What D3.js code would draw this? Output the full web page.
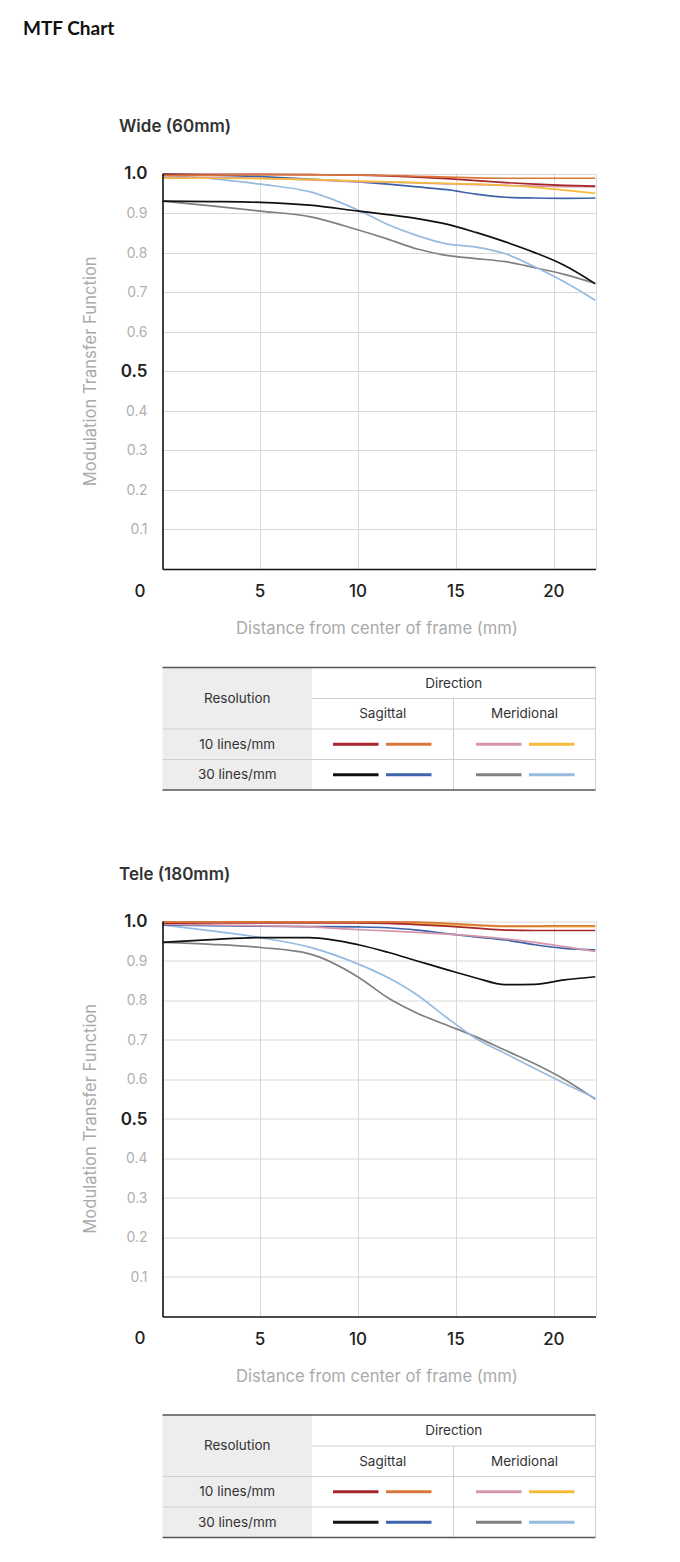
<!DOCTYPE html>
<html>
<head>
<meta charset="utf-8">
<script src="https://cdn.jsdelivr.net/npm/d3@7"></script>
<style>
  html, body { margin: 0; padding: 0; background: #fff; }
  svg { display: block; }
  text { font-family: Inter, "Noto Sans", sans-serif; }
</style>
</head>
<body>
<svg id="chart" width="680" height="1562"></svg>
<script>
// ---------------- DATA ----------------
const pageTitle = "MTF Chart";
const chartTitles = ["Wide (60mm)", "Tele (180mm)"];
const distances = [0, 2.5, 5, 7.5, 10, 11.5, 13, 14.5, 16, 17.5, 19, 20.5, 22.1];
const xTicks = [5, 10, 15, 20];
const yTicks = [0.1, 0.2, 0.3, 0.4, 0.5, 0.6, 0.7, 0.8, 0.9, 1.0];
const yTickLabels = ["0.1", "0.2", "0.3", "0.4", "0.5", "0.6", "0.7", "0.8", "0.9", "1.0"];
const seriesNames = ["10S-a", "10S-b", "10M-a", "10M-b", "30S-a", "30S-b", "30M-a", "30M-b"];
const seriesColors = ["#a6262c", "#d9773a", "#d597a8", "#f4bb3c", "#111111", "#3d63ab", "#808080", "#96bbe0"];

// Wide (60mm)
const wide10SagA = [0.998, 0.998, 0.998, 0.997, 0.996, 0.994, 0.991, 0.987, 0.982, 0.977, 0.973, 0.970, 0.968];
const wide10SagB = [0.995, 0.996, 0.997, 0.997, 0.996, 0.995, 0.993, 0.991, 0.989, 0.988, 0.988, 0.988, 0.988];
const wide10MerA = [0.990, 0.990, 0.988, 0.984, 0.979, 0.978, 0.976, 0.974, 0.972, 0.970, 0.968, 0.967, 0.966];
const wide10MerB = [0.988, 0.988, 0.987, 0.985, 0.981, 0.979, 0.977, 0.975, 0.973, 0.970, 0.965, 0.958, 0.950];
const wide30SagA = [0.930, 0.929, 0.927, 0.920, 0.905, 0.896, 0.886, 0.872, 0.851, 0.827, 0.800, 0.768, 0.721];
const wide30SagB = [0.999, 0.996, 0.992, 0.986, 0.979, 0.973, 0.966, 0.959, 0.948, 0.940, 0.938, 0.937, 0.938];
const wide30MerA = [0.930, 0.918, 0.905, 0.891, 0.857, 0.834, 0.809, 0.793, 0.785, 0.777, 0.762, 0.745, 0.722];
const wide30MerB = [0.995, 0.987, 0.973, 0.954, 0.907, 0.871, 0.843, 0.822, 0.814, 0.797, 0.764, 0.726, 0.679];

// Tele (180mm)
const tele10SagA = [0.994, 0.995, 0.995, 0.995, 0.995, 0.994, 0.991, 0.987, 0.982, 0.977, 0.976, 0.976, 0.976];
const tele10SagB = [0.998, 0.998, 0.998, 0.998, 0.998, 0.998, 0.997, 0.994, 0.990, 0.987, 0.987, 0.988, 0.988];
const tele10MerA = [0.992, 0.990, 0.988, 0.985, 0.978, 0.975, 0.971, 0.967, 0.962, 0.955, 0.946, 0.935, 0.923];
const tele10MerB = [0.996, 0.997, 0.997, 0.997, 0.996, 0.995, 0.994, 0.991, 0.988, 0.986, 0.986, 0.986, 0.986];
const tele30SagA = [0.946, 0.953, 0.958, 0.958, 0.940, 0.921, 0.899, 0.877, 0.856, 0.839, 0.840, 0.851, 0.859];
const tele30SagB = [0.990, 0.988, 0.987, 0.986, 0.985, 0.983, 0.977, 0.968, 0.960, 0.952, 0.940, 0.931, 0.927];
const tele30MerA = [0.946, 0.941, 0.933, 0.917, 0.858, 0.806, 0.767, 0.737, 0.707, 0.673, 0.639, 0.600, 0.549];
const tele30MerB = [0.990, 0.975, 0.958, 0.934, 0.891, 0.857, 0.813, 0.756, 0.703, 0.665, 0.627, 0.590, 0.552];

const wideSeries = [wide10SagA, wide10SagB, wide10MerA, wide10MerB, wide30SagA, wide30SagB, wide30MerA, wide30MerB];
const teleSeries = [tele10SagA, tele10SagB, tele10MerA, tele10MerB, tele30SagA, tele30SagB, tele30MerA, tele30MerB];

// Legend table text
const legendResolution = "Resolution";
const legendDirection = "Direction";
const legendDirections = ["Sagittal", "Meridional"];
const legendRows = ["10 lines/mm", "30 lines/mm"];
const axisTitleY = "Modulation Transfer Function";
const axisTitleX = "Distance from center of frame (mm)";

// ---------------- DRAW ----------------
const svg = d3.select("#chart");

svg.append("text")
  .attr("x", 23).attr("y", 35)
  .style("font-family", "Lato, 'Noto Sans', sans-serif")
  .style("font-weight", 700).style("font-size", "19px").attr("fill", "#111")
  .text(pageTitle);

function drawChart(offsetY, title, seriesList) {
  const g = svg.append("g").attr("transform", `translate(0,${offsetY})`);
  const left = 162.5, right = 595.5, top = 173.5, bottom = 569;
  const x = d3.scaleLinear().domain([0, 22.1]).range([left, right]);
  const y = d3.scaleLinear().domain([0, 1]).range([bottom, top]);

  g.append("text").attr("x", 119).attr("y", 132)
    .style("font-size", "17px").style("font-weight", 600).attr("fill", "#333")
    .text(title);

  // grid
  const grid = g.append("g").attr("stroke", "#d8d8d8").attr("stroke-width", 1);
  grid.selectAll("line.h").data(yTicks).join("line")
    .attr("x1", left).attr("x2", right)
    .attr("y1", d => Math.round(y(d)) + 0.5).attr("y2", d => Math.round(y(d)) + 0.5);
  grid.selectAll("line.v").data(xTicks.concat([22.1])).join("line")
    .attr("x1", d => Math.round(x(d)) + 0.5).attr("x2", d => Math.round(x(d)) + 0.5)
    .attr("y1", top).attr("y2", bottom);

  // series lines
  const clipId = "clip" + Math.round(offsetY);
  g.append("clipPath").attr("id", clipId).append("rect")
    .attr("x", left).attr("y", top - 1).attr("width", right - left).attr("height", bottom - top + 1);
  const line = d3.line().x((d, i) => x(distances[i])).y(d => y(d)).curve(d3.curveMonotoneX);
  const order = [6, 7, 4, 5, 2, 3, 0, 1];
  g.append("g").attr("clip-path", `url(#${clipId})`)
    .selectAll("path").data(order).join("path")
    .attr("d", i => line(seriesList[i]))
    .attr("fill", "none").attr("stroke", i => seriesColors[i])
    .attr("stroke-width", 1.7);

  // axes (left and bottom lines)
  const yAxis = d3.axisLeft(y).tickValues(yTicks).tickSize(0).tickPadding(15)
    .tickFormat((d, i) => yTickLabels[i]);
  const ya = g.append("g").attr("transform", `translate(${left},0)`).call(yAxis);
  ya.select(".domain").attr("stroke", "#111").attr("stroke-width", 1.6);
  ya.selectAll(".tick text")
    .style("font-family", "Inter, sans-serif")
    .style("font-size", d => (d === 1 || d === 0.5) ? "17px" : "14px")
    .style("font-weight", d => (d === 1 || d === 0.5) ? 600 : 400)
    .attr("fill", d => (d === 1 || d === 0.5) ? "#222" : "#b0b0b0");

  const xAxis = d3.axisBottom(x).tickValues(xTicks).tickSize(0).tickPadding(16)
    .tickFormat(d3.format("d"));
  const xa = g.append("g").attr("transform", `translate(0,${bottom})`).call(xAxis);
  xa.select(".domain").attr("stroke", "#111").attr("stroke-width", 1.6);
  xa.selectAll(".tick text")
    .style("font-family", "Inter, sans-serif")
    .style("font-size", "17px").style("font-weight", 500).attr("fill", "#222")
    .attr("dx", "-1");

  g.append("text").attr("x", 140).attr("y", 591).attr("dy", "0.35em")
    .attr("text-anchor", "middle")
    .style("font-size", "17px").style("font-weight", 500).attr("fill", "#222")
    .text("0");

  // axis titles
  g.append("text")
    .attr("transform", `translate(96,${(top + bottom) / 2}) rotate(-90)`)
    .attr("text-anchor", "middle")
    .style("font-size", "16.6px").attr("fill", "#aaaaaa")
    .text(axisTitleY);
  g.append("text").attr("x", 377).attr("y", 634)
    .attr("text-anchor", "middle")
    .style("font-size", "16.6px").attr("fill", "#aaaaaa")
    .text(axisTitleX);

  // legend table
  const tL = 162.5, tR = 595.5, c1 = 312, c2 = 453.5;
  const rY = [667.5, 698.5, 729, 759.5, 790];
  const lg = g.append("g");
  lg.append("rect").attr("x", tL).attr("y", rY[0]).attr("width", c1 - tL).attr("height", rY[4] - rY[0])
    .attr("fill", "#ededed");
  const thin = "#cfcfcf";
  lg.append("line").attr("x1", c1).attr("x2", tR).attr("y1", rY[1]).attr("y2", rY[1]).attr("stroke", thin);
  [rY[2], rY[3]].forEach(yy => {
    lg.append("line").attr("x1", tL).attr("x2", tR).attr("y1", yy).attr("y2", yy).attr("stroke", thin);
  });
  lg.append("line").attr("x1", c2).attr("x2", c2).attr("y1", rY[1]).attr("y2", rY[4]).attr("stroke", thin);
  lg.append("line").attr("x1", tR).attr("x2", tR).attr("y1", rY[0]).attr("y2", rY[4]).attr("stroke", thin);
  lg.append("line").attr("x1", tL).attr("x2", tR).attr("y1", rY[0]).attr("y2", rY[0]).attr("stroke", "#555").attr("stroke-width", 1.4);
  lg.append("line").attr("x1", tL).attr("x2", tR).attr("y1", rY[4]).attr("y2", rY[4]).attr("stroke", "#555").attr("stroke-width", 1.4);

  const tstyle = s => s.style("font-size", "13.5px").attr("fill", "#333").attr("text-anchor", "middle").attr("dy", "0.35em");
  lg.append("text").attr("x", (tL + c1) / 2).attr("y", (rY[0] + rY[2]) / 2).text(legendResolution).call(tstyle);
  lg.append("text").attr("x", (c1 + tR) / 2).attr("y", (rY[0] + rY[1]) / 2).text(legendDirection).call(tstyle);
  lg.append("text").attr("x", (c1 + c2) / 2).attr("y", (rY[1] + rY[2]) / 2).text(legendDirections[0]).call(tstyle);
  lg.append("text").attr("x", (c2 + tR) / 2).attr("y", (rY[1] + rY[2]) / 2).text(legendDirections[1]).call(tstyle);
  legendRows.forEach((r, ri) => {
    const cy = (rY[2 + ri] + rY[3 + ri]) / 2;
    lg.append("text").attr("x", (tL + c1) / 2).attr("y", cy).text(r).call(tstyle);
    const swX = [333, 386, 476, 529];
    swX.forEach((sx, k) => {
      const idx = ri * 4 + k;
      lg.append("line").attr("x1", sx).attr("x2", sx + 45.5).attr("y1", cy).attr("y2", cy)
        .attr("stroke", seriesColors[idx]).attr("stroke-width", 3);
    });
  });
}

drawChart(0, chartTitles[0], wideSeries);
drawChart(747.5, chartTitles[1], teleSeries);
</script>
</body>
</html>
